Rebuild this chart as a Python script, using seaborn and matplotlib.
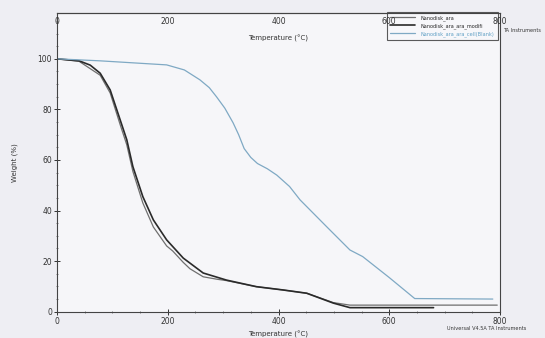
import matplotlib
matplotlib.use("Agg")
import matplotlib.pyplot as plt
import seaborn as sns
import pandas as pd
from matplotlib.ticker import MultipleLocator

sns.set_theme(style="white")
plt.rcParams['font.family'] = ['DejaVu Sans']

# Data
t_ara = [0, 40, 78, 96, 114, 126, 137, 155, 174, 198, 209, 228, 240, 264, 290, 306, 360, 408, 451, 499, 529, 560, 640, 795]
w_ara = [100, 99, 93.5, 86.5, 74, 66, 55.5, 43, 33.5, 26, 24, 19.5, 17, 13.8, 12.8, 12.3, 9.9, 8.6, 7.3, 3.6, 2.6, 2.6, 2.6, 2.6]

t_mod = [0, 40, 60, 78, 96, 114, 126, 137, 155, 174, 198, 228, 264, 306, 360, 408, 451, 499, 529, 560, 680]
w_mod = [100, 99.2, 97.5, 94.3, 87.7, 75.9, 68, 57.4, 45.5, 36.3, 28.4, 21.2, 15.3, 12.5, 9.9, 8.6, 7.3, 3.4, 1.6, 1.6, 1.6]

t_cell = [0, 78, 198, 230, 258, 275, 288, 303, 318, 328, 338, 350, 362, 380, 397, 420, 439, 487, 529, 552, 600, 646, 787]
w_cell = [100, 99.2, 97.6, 95.6, 91.7, 88.6, 85, 80.5, 74.7, 70, 64.5, 61, 58.6, 56.5, 54, 49.5, 44.2, 33.6, 24.4, 21.8, 13.5, 5.2, 5.0]

series_names = ["Nanodisk_ara", "Nanodisk_ara_ara_modifi", "Nanodisk_ara_ara_cell(Blank)"]
series_colors = ["#6f6f6f", "#2a2a2a", "#7fa9c4"]

x_ticks = [0, 200, 400, 600, 800]
y_ticks = [0, 20, 40, 60, 80, 100]

W, H = 545, 338
fig = plt.figure(figsize=(W / 100, H / 100), dpi=100)
fig.patch.set_facecolor("#eeeef3")

left, right = 57 / W, 500 / W
bottom, top = (H - 311.7) / H, (H - 13.3) / H
ax = fig.add_axes([left, bottom, right - left, top - bottom])
ax.set_facecolor("#f6f6f9")

for t, w, name, col, lw in zip([t_ara, t_mod, t_cell], [w_ara, w_mod, w_cell],
                               series_names, series_colors, [0.9, 1.2, 0.9]):
    df = pd.DataFrame({"T": t, "W": w})
    sns.lineplot(data=df, x="T", y="W", ax=ax, color=col, lw=lw, label=name,
                 sort=False, estimator=None)

ax.set_xlim(0, 800)
ax.set_ylim(0, 118)
ax.set_xticks(x_ticks)
ax.set_xticklabels([str(v) for v in x_ticks])
ax.set_yticks(y_ticks)
ax.set_yticklabels([str(v) for v in y_ticks])
ax.xaxis.set_minor_locator(MultipleLocator(50))
ax.yaxis.set_minor_locator(MultipleLocator(5))
ax.tick_params(axis="both", which="major", direction="inout", length=4, width=0.7,
               labelsize=5.5, colors="#333333", pad=1.5)
ax.tick_params(axis="both", which="minor", direction="inout", length=2, width=0.5,
               colors="#555555")
ax.tick_params(axis="x", bottom=True, which="both")
ax.tick_params(axis="y", left=True, which="both")
for sp in ax.spines.values():
    sp.set_color("#444444")
    sp.set_linewidth(0.8)
ax.set_xlabel("Temperature (°C)", fontsize=5, color="#333333", labelpad=4)
ax.set_ylabel("Weight (%)", fontsize=5, color="#333333", labelpad=14)

# top temperature axis (labels drawn just under the top line)
ax_top = fig.add_axes([left, top, right - left, 0.0001])
ax_top.set_facecolor("none")
ax_top.set_xlim(0, 800)
ax_top.set_yticks([])
for k in ["top", "left", "right"]:
    ax_top.spines[k].set_visible(False)
ax_top.spines["bottom"].set_color("#444444")
ax_top.spines["bottom"].set_linewidth(0.8)
ax_top.set_xticks(x_ticks)
ax_top.set_xticklabels([str(v) for v in x_ticks])
ax_top.xaxis.set_minor_locator(MultipleLocator(50))
ax_top.tick_params(axis="x", which="major", direction="inout", length=4, width=0.7,
                   labelsize=5.5, colors="#333333", pad=1)
ax_top.tick_params(axis="x", which="minor", direction="inout", length=2, width=0.5)
ax_top.set_xlabel("Temperature (°C)", fontsize=5, color="#333333", labelpad=6)

leg = ax.legend(loc="upper right", bbox_to_anchor=(1.0, 1.012), fontsize=3.6,
                frameon=True, fancybox=False, borderpad=0.6, handlelength=5,
                labelspacing=0.45, handletextpad=1.2)
leg.get_frame().set_edgecolor("#333333")
leg.get_frame().set_linewidth(0.8)
leg.get_frame().set_facecolor("#f8f8fb")
leg.texts[2].set_color("#5f9fc4")

fig.text(503 / W, 1 - 30 / H, "TA Instruments", fontsize=3.6, color="#333333", va="center")
fig.text(447 / W, 1 - 329 / H, "Universal V4.5A TA Instruments", fontsize=3.6,
         color="#333333", va="center")

fig.savefig("out.png", dpi=100, facecolor=fig.get_facecolor())
